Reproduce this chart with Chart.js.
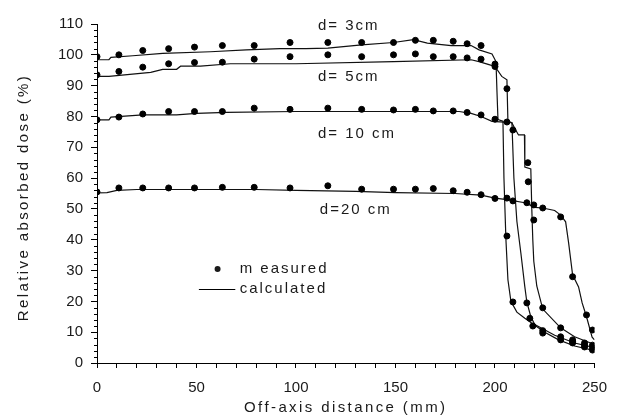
<!DOCTYPE html>
<html>
<head>
<meta charset="utf-8">
<script src="https://cdn.jsdelivr.net/npm/chart.js@4.4.1/dist/chart.umd.min.js"></script>
<style>
  html, body { margin: 0; padding: 0; background: #fff; }
  #wrap { width: 618px; height: 416px; }
</style>
</head>
<body>
<div id="wrap"><canvas id="doseChart"></canvas></div>
<script>
// measured points (off-axis mm / relative dose %)
const m3x = [0, 11, 23, 36, 49, 63, 79, 97, 116, 133, 149, 160, 169, 179, 186, 193, 200, 206, 209, 217.5, 224, 233, 239, 245, 249];
const m3y = [99.4, 100, 101.4, 102, 102.5, 103, 103, 104, 104, 104, 104, 104.7, 104.7, 104.4, 103.6, 103, 97, 41.2, 19.8, 14.5, 9.7, 7.5, 6.5, 5.2, 4.2];
const m5x = [0, 11, 23, 36, 49, 63, 79, 97, 116, 133, 149, 160, 169, 179, 186, 193, 200, 206, 216, 219, 224, 233, 239, 245, 249];
const m5y = [93.5, 94.6, 96, 97.1, 97.5, 97.6, 98.6, 99.4, 100, 99.4, 100, 100.3, 99.4, 99.4, 99, 98.6, 96.2, 89, 19.5, 12, 10.5, 8.5, 7, 5.8, 5];
const m10x = [0, 11, 23, 36, 49, 63, 79, 97, 116, 133, 149, 160, 169, 179, 186, 193, 200, 206, 209, 216.5, 216.7, 219.5, 224, 233, 239, 245, 249];
const m10y = [78.9, 79.8, 80.8, 81.6, 81.6, 81.6, 82.7, 82.3, 82.7, 82.3, 82.1, 82.3, 81.8, 81.8, 81.3, 80.5, 79.1, 78.2, 75.6, 65, 58.8, 46.4, 17.9, 11.4, 7.5, 6.5, 5.8];
const m20x = [0, 11, 23, 36, 49, 63, 79, 97, 116, 133, 149, 160, 169, 179, 186, 193, 200, 206, 209, 216, 219.5, 224, 233, 239, 246, 249];
const m20y = [55.5, 56.8, 56.8, 56.8, 56.8, 57, 57, 56.8, 57.5, 56.4, 56.4, 56.4, 56.6, 55.9, 55.4, 54.6, 53.4, 53.5, 52.6, 52, 51.3, 50.3, 47.4, 28, 15.6, 10.7];

// calculated profiles
const c3x = [0, 6, 7, 18, 33, 57, 75, 92, 105, 116, 133, 149, 159, 166, 178, 188, 192, 198.5, 200.5, 201, 201.5, 204, 204.5, 205.5, 206.5, 208, 211, 215, 225, 232, 240, 250];
const c3y = [98.4, 98.4, 99.2, 99.7, 100.5, 101, 101.6, 102, 102, 102.2, 103.2, 104, 104.9, 103.8, 103, 103, 101.6, 100.3, 97.8, 88, 79, 78.5, 60, 40, 27, 20, 16.5, 14.5, 10, 7.5, 5.5, 4];
const c5x = [0, 6, 27, 33, 40, 42, 52, 67, 100, 149, 188, 192, 197, 200, 203.4, 206, 206.5, 208.5, 209.5, 211, 213, 215, 216, 218, 220, 230, 240, 250];
const c5y = [93, 93, 94.3, 95.3, 95.3, 96.3, 96.3, 97.1, 97.1, 97.8, 98.4, 97.8, 96.8, 96.2, 93, 91.9, 78.3, 78, 60, 46, 35.7, 24.7, 19.8, 15, 12.5, 9, 6.5, 5];
const c10x = [0, 6, 7, 23, 40, 50, 65, 100, 182, 188, 193, 198.5, 208.4, 211.8, 214.8, 215, 218, 218.5, 219, 219.5, 221, 224, 233, 240, 250];
const c10y = [78.9, 78.9, 79.8, 80.5, 80.5, 81, 81.3, 81.6, 81.6, 81, 80, 78.4, 78, 74, 74, 63.6, 63, 50, 40, 33, 25, 17.5, 11.4, 8.5, 6];
const c20x = [0, 5, 10, 20, 60, 80, 100, 130, 150, 180, 193, 200, 206, 215, 220, 224, 230, 233, 235.5, 237, 239, 242, 243.8, 246, 248.8, 250];
const c20y = [55.2, 55.3, 56, 56.3, 56.3, 56.3, 56, 55.7, 55.3, 55, 54.5, 53.5, 53, 52, 50.5, 50.3, 49.5, 48, 45.8, 39, 28.6, 24.7, 19.5, 15, 8.4, 7.5];

const xTickStep = 10;
const xLabelStep = 50;
const yTickStep = 10;
const yMinorStep = 2;

const FONT = '"Liberation Sans", Arial, sans-serif';
const TXT = '#1a1a1a';

function pts(xs, ys) {
	return xs.map((x, i) => ({ x: x, y: ys[i] }));
}

function calcSet(xs, ys) {
	return {
		type: 'line',
		data: pts(xs, ys),
		borderColor: '#111',
		borderWidth: 1.2,
		pointRadius: 0,
		tension: 0,
		fill: false,
		order: 2
	};
}

function measSet(xs, ys) {
	return {
		type: 'scatter',
		data: pts(xs, ys),
		backgroundColor: '#000',
		borderColor: '#000',
		pointRadius: 3,
		pointStyle: 'circle',
		order: 1
	};
}

// minor ticks, axis titles, in-plot labels and the legend
const extras = {
	id: 'extras',
	afterDraw(chart) {
		const ctx = chart.ctx;
		const xs = chart.scales.x;
		const ys = chart.scales.y;
		ctx.save();
		ctx.strokeStyle = '#000';
		ctx.lineWidth = 1;
		for (let v = 0; v <= 110; v += yMinorStep) {
			if (v % yTickStep === 0) continue;
			const py = Math.round(ys.getPixelForValue(v)) + 0.5;
			ctx.beginPath();
			ctx.moveTo(xs.left - 3, py);
			ctx.lineTo(xs.left, py);
			ctx.stroke();
		}

		ctx.fillStyle = TXT;
		ctx.font = '15px ' + FONT;
		ctx.textBaseline = 'middle';

		// axis titles
		ctx.letterSpacing = '2.4px';
		ctx.textAlign = 'center';
		ctx.fillText('Off-axis distance (mm)', (xs.left + xs.right) / 2, 408);
		ctx.save();
		ctx.translate(24, (ys.top + ys.bottom) / 2 + 4);
		ctx.rotate(-Math.PI / 2);
		ctx.fillText('Relative absorbed dose (%)', 0, 0);
		ctx.restore();

		ctx.letterSpacing = '2px';
		ctx.textAlign = 'left';
		const lab = (t, x, y) => ctx.fillText(t, xs.getPixelForValue(x), ys.getPixelForValue(y));
		lab('d= 3cm', 111, 109.4);
		lab('d= 5cm', 111, 93);
		lab('d= 10 cm', 111, 74.3);
		lab('d=20 cm', 112, 49.8);

		// legend
		const dx = xs.getPixelForValue(60.6), dy = ys.getPixelForValue(30.5);
		ctx.beginPath();
		ctx.arc(dx, dy, 3, 0, Math.PI * 2);
		ctx.fill();
		lab('m easured', 71.7, 30.5);
		const ly = Math.round(ys.getPixelForValue(24)) + 0.5;
		ctx.beginPath();
		ctx.moveTo(xs.getPixelForValue(51.2), ly);
		ctx.lineTo(xs.getPixelForValue(69.5), ly);
		ctx.stroke();
		lab('calculated', 71.7, 24);
		ctx.restore();
	}
};

new Chart(document.getElementById('doseChart'), {
	data: {
		datasets: [
			calcSet(c3x, c3y), calcSet(c5x, c5y), calcSet(c10x, c10y), calcSet(c20x, c20y),
			measSet(m3x, m3y), measSet(m5x, m5y), measSet(m10x, m10y), measSet(m20x, m20y)
		]
	},
	options: {
		responsive: true,
		maintainAspectRatio: false,
		animation: false,
		layout: { padding: { left: 0, right: 14, top: 24, bottom: 0 } },
		plugins: { legend: { display: false }, tooltip: { enabled: false } },
		scales: {
			x: {
				type: 'linear',
				min: 0,
				max: 250,
				afterFit(s) { s.height = 53; },
				border: { display: true, color: '#000', width: 1 },
				grid: { drawOnChartArea: false, drawTicks: true, tickLength: 5, color: '#000' },
				ticks: {
					stepSize: xTickStep,
					autoSkip: false,
					maxRotation: 0,
					padding: 11,
					color: TXT,
					font: { family: FONT, size: 15 },
					callback: v => (v % xLabelStep === 0 ? String(v) : '')
				}
			},
			y: {
				type: 'linear',
				min: 0,
				max: 110,
				afterFit(s) { s.width = 97; },
				border: { display: true, color: '#000', width: 1 },
				grid: { drawOnChartArea: false, drawTicks: true, tickLength: 6, color: '#000' },
				ticks: {
					stepSize: yTickStep,
					padding: 8,
					color: TXT,
					font: { family: FONT, size: 15 }
				}
			}
		}
	},
	plugins: [extras]
});
</script>
</body>
</html>
